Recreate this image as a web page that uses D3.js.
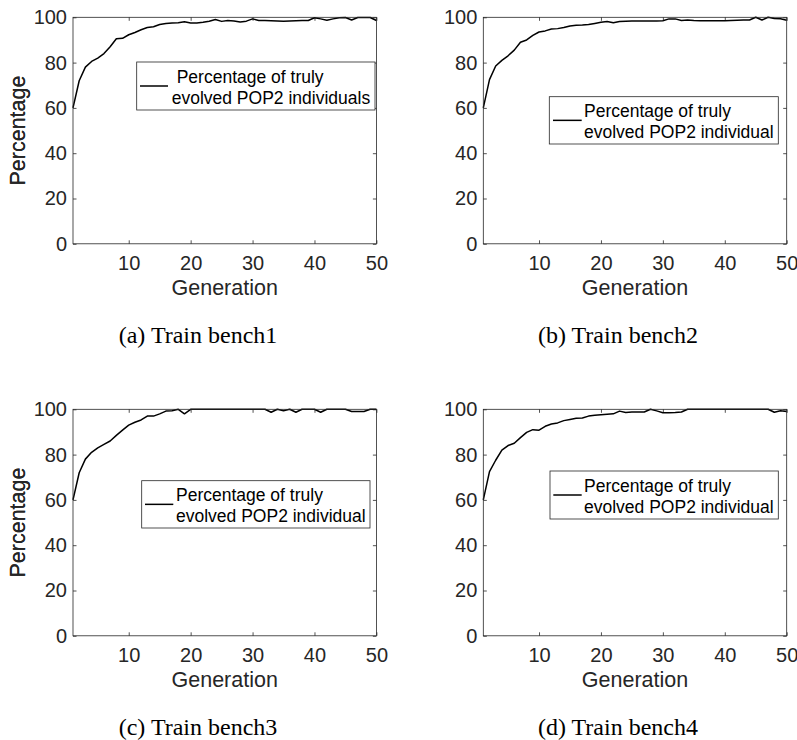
<!DOCTYPE html>
<html>
<head>
<meta charset="utf-8">
<script src="https://cdn.jsdelivr.net/npm/d3@7/dist/d3.min.js"></script>
<style>
  body { margin: 0; background: #fff; }
  svg { display: block; }
  .tick text { font-family: "Liberation Sans", Arial, sans-serif; fill: #262626; }
</style>
</head>
<body>
<svg id="fig" width="797" height="740"></svg>
<script>
// Percentage of truly evolved POP2 individuals per generation (generations 1..50)
const bench1 = [60, 72, 78, 80.5, 82, 84, 87, 90.5, 90.7, 92.3,
                93.3, 94.5, 95.5, 95.8, 96.8, 97.3, 97.5, 97.6, 98, 97.5,
                97.5, 97.8, 98.3, 99, 98.2, 98.6, 98.4, 97.9, 98.3, 99.3,
                98.6, 98.6, 98.5, 98.4, 98.3, 98.4, 98.5, 98.6, 98.6, 99.8,
                99.3, 98.7, 99.3, 99.8, 99.9, 98.8, 99.9, 99.9, 99.9, 98.6];
const bench2 = [60, 72.5, 78.5, 81, 83, 85.5, 89, 90, 92, 93.5,
                94, 94.8, 95, 95.5, 96.2, 96.5, 96.6, 96.8, 97.3, 97.8,
                98.1, 97.6, 98.1, 98.3, 98.4, 98.4, 98.4, 98.4, 98.4, 98.5,
                99.3, 99.3, 98.6, 98.8, 98.6, 98.5, 98.5, 98.5, 98.5, 98.5,
                98.6, 98.7, 98.8, 98.8, 100, 98.8, 100, 99.5, 99.4, 98.7];
const bench3 = [60, 72, 78, 81, 83, 84.5, 86, 88.5, 90.8, 93,
                94.3, 95.3, 97, 97, 98, 99.2, 99.4, 100, 98, 100,
                100, 100, 100, 100, 100, 100, 100, 100, 100, 100,
                100, 100, 98.7, 100, 99.4, 100, 98.7, 100, 100, 100,
                98.7, 100, 100, 100, 100, 99, 99, 99, 100, 100];
const bench4 = [60, 72.5, 77.5, 82, 84, 85, 87.5, 89.8, 91, 90.8,
                92.5, 93.5, 94, 95, 95.5, 96, 96.2, 97, 97.4, 97.6,
                97.8, 98, 99.2, 98.6, 98.8, 98.8, 98.8, 100, 99.3, 98.5,
                98.5, 98.6, 98.8, 100, 100, 100, 100, 100, 100, 100,
                100, 100, 100, 100, 100, 100, 100, 98.7, 99.4, 99];

const xTicks = [10, 20, 30, 40, 50];
const yTicks = [0, 20, 40, 60, 80, 100];
const xDomain = [1, 50];
const yDomain = [0, 100];
const xLabel = "Generation";
const yLabel = "Percentage";
const captions = ["(a) Train bench1", "(b) Train bench2", "(c) Train bench3", "(d) Train bench4"];
const legendLines = [
  ["Percentage of truly", "evolved POP2 individuals"],
  ["Percentage of truly", "evolved POP2 individual"],
  ["Percentage of truly", "evolved POP2 individual"],
  ["Percentage of truly", "evolved POP2 individual"]
];
const seriesList = [bench1, bench2, bench3, bench4];

// Placement of each subplot and its legend box
const plotW = 303.4, plotH = 226.5;
const panels = [
  { left: 73,    top: 17.3,  capX: 198, lg: { x: 136.7, y: 62,    w: 238.3, h: 48,   s1: 140,   s2: 168,   tx: [176.7, 171.7] } },
  { left: 483.3, top: 17.3,  capX: 618, lg: { x: 549.3, y: 96.7,  w: 229,   h: 47.3, s1: 553,   s2: 581.7, tx: [584, 584] } },
  { left: 73,    top: 409.3, capX: 198, lg: { x: 141.7, y: 480.7, w: 228.3, h: 47.3, s1: 145,   s2: 173.3, tx: [176, 176] } },
  { left: 483.3, top: 409.3, capX: 618, lg: { x: 550,   y: 471,   w: 228.3, h: 48,   s1: 553.3, s2: 581.7, tx: [584, 584] } }
];

const axisColor = "#262626";
const svg = d3.select("#fig");

panels.forEach((p, i) => {
  const values = seriesList[i];
  const x = d3.scaleLinear().domain(xDomain).range([0, plotW]);
  const y = d3.scaleLinear().domain(yDomain).range([plotH, 0]);
  const g = svg.append("g").attr("transform", `translate(${p.left},${p.top})`);

  // inward ticks on all four sides, labels only bottom/left
  const styleAxis = sel => {
    sel.select(".domain").remove();
    sel.selectAll(".tick line").attr("stroke", axisColor).attr("stroke-width", 0.8);
  };
  g.append("g").attr("transform", `translate(0,${plotH})`)
    .call(d3.axisBottom(x).tickValues(xTicks).tickSizeInner(-3.5).tickSizeOuter(0).tickPadding(12))
    .call(styleAxis)
    .selectAll("text").style("font-size", "20px");
  g.append("g")
    .call(d3.axisTop(x).tickValues(xTicks).tickSizeInner(-3.5).tickSizeOuter(0).tickFormat(""))
    .call(styleAxis);
  g.append("g")
    .call(d3.axisLeft(y).tickValues(yTicks).tickSizeInner(-3.5).tickSizeOuter(0).tickPadding(6))
    .call(styleAxis)
    .selectAll("text").style("font-size", "20px");
  g.append("g").attr("transform", `translate(${plotW},0)`)
    .call(d3.axisRight(y).tickValues(yTicks).tickSizeInner(-3.5).tickSizeOuter(0).tickFormat(""))
    .call(styleAxis);

  // data line
  const line = d3.line().x((d, k) => x(k + 1)).y(d => y(d));
  g.append("path").datum(values)
    .attr("d", line)
    .attr("fill", "none")
    .attr("stroke", "#000")
    .attr("stroke-width", 1.5)
    .attr("stroke-linejoin", "round");

  // box
  g.append("rect").attr("x", 0).attr("y", 0).attr("width", plotW).attr("height", plotH)
    .attr("fill", "none").attr("stroke", axisColor).attr("stroke-width", 0.8);

  // axis titles
  g.append("text")
    .attr("x", plotW / 2).attr("y", plotH + 51)
    .attr("text-anchor", "middle")
    .style("font-family", '"Liberation Sans", Arial, sans-serif')
    .style("font-size", "21.5px").attr("fill", axisColor)
    .text(xLabel);
  g.append("text")
    .attr("transform", `translate(${25 - p.left},${plotH / 2}) rotate(-90)`)
    .attr("text-anchor", "middle")
    .style("font-family", '"Liberation Sans", Arial, sans-serif')
    .style("font-size", "21.5px").attr("fill", axisColor)
    .text(yLabel);

  // legend
  const L = p.lg;
  const lg = svg.append("g");
  lg.append("rect").attr("x", L.x).attr("y", L.y).attr("width", L.w).attr("height", L.h)
    .attr("fill", "#fff").attr("stroke", axisColor).attr("stroke-width", 0.8);
  const mid = L.y + L.h / 2;
  lg.append("line").attr("x1", L.s1).attr("x2", L.s2).attr("y1", mid).attr("y2", mid)
    .attr("stroke", "#000").attr("stroke-width", 1.5);
  legendLines[i].forEach((t, k) => {
    lg.append("text")
      .attr("x", L.tx[k]).attr("y", mid - 3.5 + k * 21.5)
      .style("font-family", '"Liberation Sans", Arial, sans-serif')
      .style("font-size", "17.5px").attr("fill", "#000")
      .text(t);
  });

  // caption
  svg.append("text")
    .attr("x", p.capX).attr("y", p.top + plotH + 99)
    .attr("text-anchor", "middle")
    .style("font-family", '"Liberation Serif", "Times New Roman", serif')
    .style("font-size", "24px").attr("fill", "#000")
    .text(captions[i]);
});
</script>
</body>
</html>
